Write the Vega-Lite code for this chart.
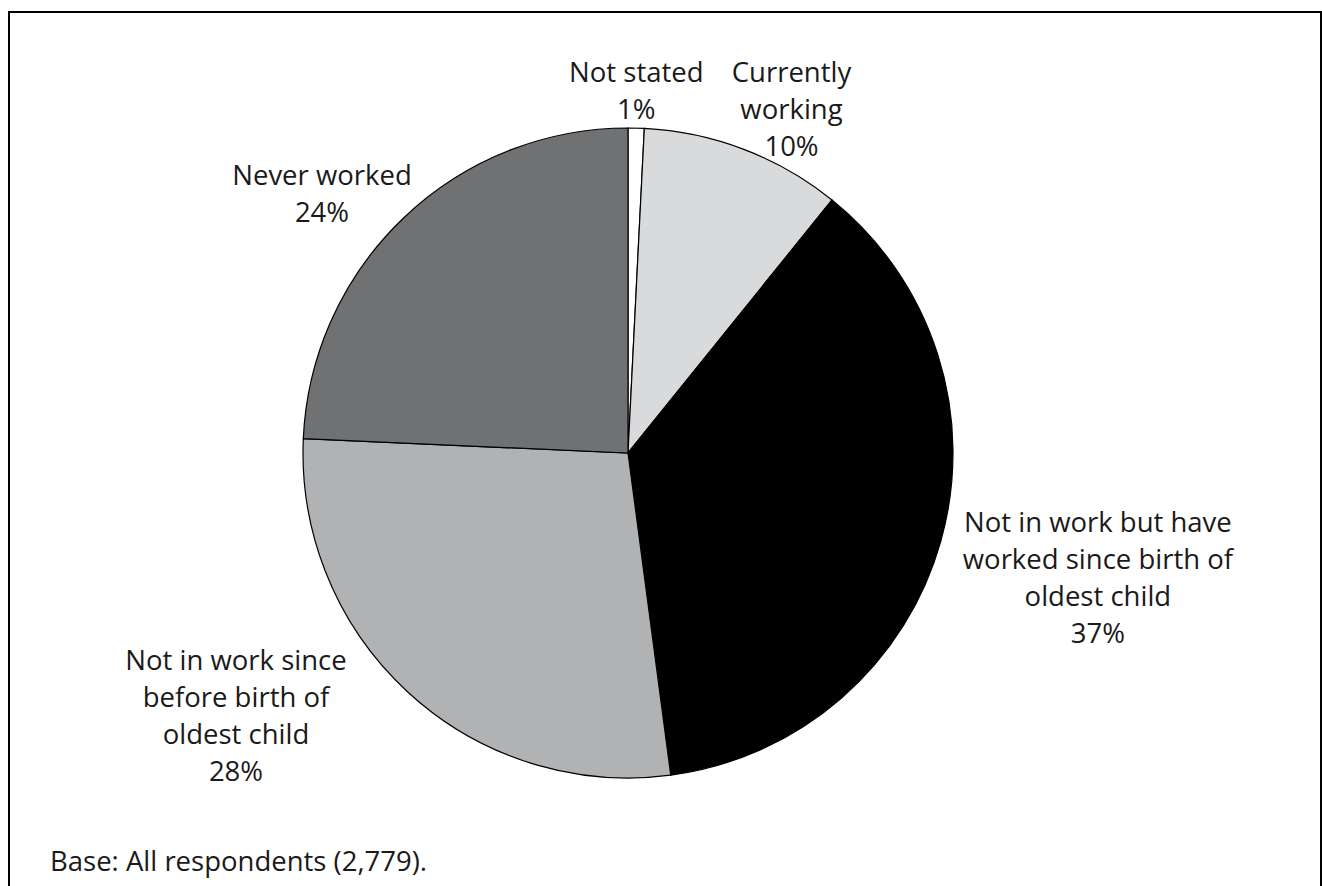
{
  "$schema": "https://vega.github.io/schema/vega-lite/v6.json",
  "width": 1312,
  "height": 874,
  "autosize": "none",
  "padding": {"left": 9, "top": 12, "right": 1, "bottom": 0},
  "background": "#ffffff",
  "config": {"view": {"stroke": null}, "font": "Open Sans"},
  "title": {"text": "Base: All respondents (2,779).", "orient": "bottom", "anchor": "start", "frame": "group", "offset": -44, "dx": 41, "fontSize": 27.5, "fontWeight": "normal", "color": "#1a1a1a", "font": "Open Sans"},
  "data": {"values": [
    {"cat": "Not stated", "pct": 0.8, "rank": 1, "label": "Not stated\n1%"},
    {"cat": "Currently working", "pct": 10.0, "rank": 2, "label": "Currently\nworking\n10%"},
    {"cat": "Not in work but have worked since birth of oldest child", "pct": 37.1, "rank": 3, "label": "Not in work but have\nworked since birth of\noldest child\n37%"},
    {"cat": "Not in work since before birth of oldest child", "pct": 27.8, "rank": 4, "label": "Not in work since\nbefore birth of\noldest child\n28%"},
    {"cat": "Never worked", "pct": 24.3, "rank": 5, "label": "Never worked\n24%"}
  ]},
  "layer": [
    {
      "data": {"values": [{"frame": "border"}]},
      "mark": {"type": "rect", "fill": null, "stroke": "#000000", "strokeWidth": 2},
      "encoding": {"x": {"value": 0}, "x2": {"value": "width"}, "y": {"value": 0}, "y2": {"value": {"expr": "height + 6"}}}
    },
    {
      "mark": {"type": "arc", "outerRadius": 325, "x": 619, "y": 441, "stroke": "#000000", "strokeWidth": 1.2},
      "encoding": {
        "theta": {"field": "pct", "type": "quantitative", "stack": true},
        "order": {"field": "rank", "type": "quantitative"},
        "color": {"field": "cat", "type": "nominal", "legend": null,
          "scale": {"domain": ["Not stated", "Currently working", "Not in work but have worked since birth of oldest child", "Not in work since before birth of oldest child", "Never worked"],
                    "range": ["#ffffff", "#d9dadb", "#000000", "#b1b2b4", "#707173"]}}
      }
    },
    {
      "mark": {"type": "text", "x": 619, "y": 441, "radius": 371, "dx": -1, "dy": 0, "align": "center", "baseline": "alphabetic", "fontSize": 27.5, "lineHeight": 37, "lineBreak": "\n", "color": "#1a1a1a"},
      "encoding": {"theta": {"field": "pct", "type": "quantitative", "stack": true}, "order": {"field": "rank", "type": "quantitative"}, "detail": {"field": "cat"}, "text": {"condition": {"test": "datum.cat === 'Not stated'", "field": "label"}, "value": ""}}
    },
    {
      "mark": {"type": "text", "x": 619, "y": 441, "radius": 397, "dx": 22, "dy": 0, "align": "center", "baseline": "alphabetic", "fontSize": 27.5, "lineHeight": 37, "lineBreak": "\n", "color": "#1a1a1a"},
      "encoding": {"theta": {"field": "pct", "type": "quantitative", "stack": true}, "order": {"field": "rank", "type": "quantitative"}, "detail": {"field": "cat"}, "text": {"condition": {"test": "datum.cat === 'Currently working'", "field": "label"}, "value": ""}}
    },
    {
      "mark": {"type": "text", "x": 619, "y": 441, "radius": 488, "dx": 0, "dy": -53, "align": "center", "baseline": "alphabetic", "fontSize": 27.5, "lineHeight": 37, "lineBreak": "\n", "color": "#1a1a1a"},
      "encoding": {"theta": {"field": "pct", "type": "quantitative", "stack": true}, "order": {"field": "rank", "type": "quantitative"}, "detail": {"field": "cat"}, "text": {"condition": {"test": "datum.cat === 'Not in work but have worked since birth of oldest child'", "field": "label"}, "value": ""}}
    },
    {
      "mark": {"type": "text", "x": 619, "y": 441, "radius": 425, "dx": -105, "dy": -96, "align": "center", "baseline": "alphabetic", "fontSize": 27.5, "lineHeight": 37, "lineBreak": "\n", "color": "#1a1a1a"},
      "encoding": {"theta": {"field": "pct", "type": "quantitative", "stack": true}, "order": {"field": "rank", "type": "quantitative"}, "detail": {"field": "cat"}, "text": {"condition": {"test": "datum.cat === 'Not in work since before birth of oldest child'", "field": "label"}, "value": ""}}
    },
    {
      "mark": {"type": "text", "x": 619, "y": 441, "radius": 405, "dx": -26, "dy": 25, "align": "center", "baseline": "alphabetic", "fontSize": 27.5, "lineHeight": 37, "lineBreak": "\n", "color": "#1a1a1a"},
      "encoding": {"theta": {"field": "pct", "type": "quantitative", "stack": true}, "order": {"field": "rank", "type": "quantitative"}, "detail": {"field": "cat"}, "text": {"condition": {"test": "datum.cat === 'Never worked'", "field": "label"}, "value": ""}}
    }
  ]
}
